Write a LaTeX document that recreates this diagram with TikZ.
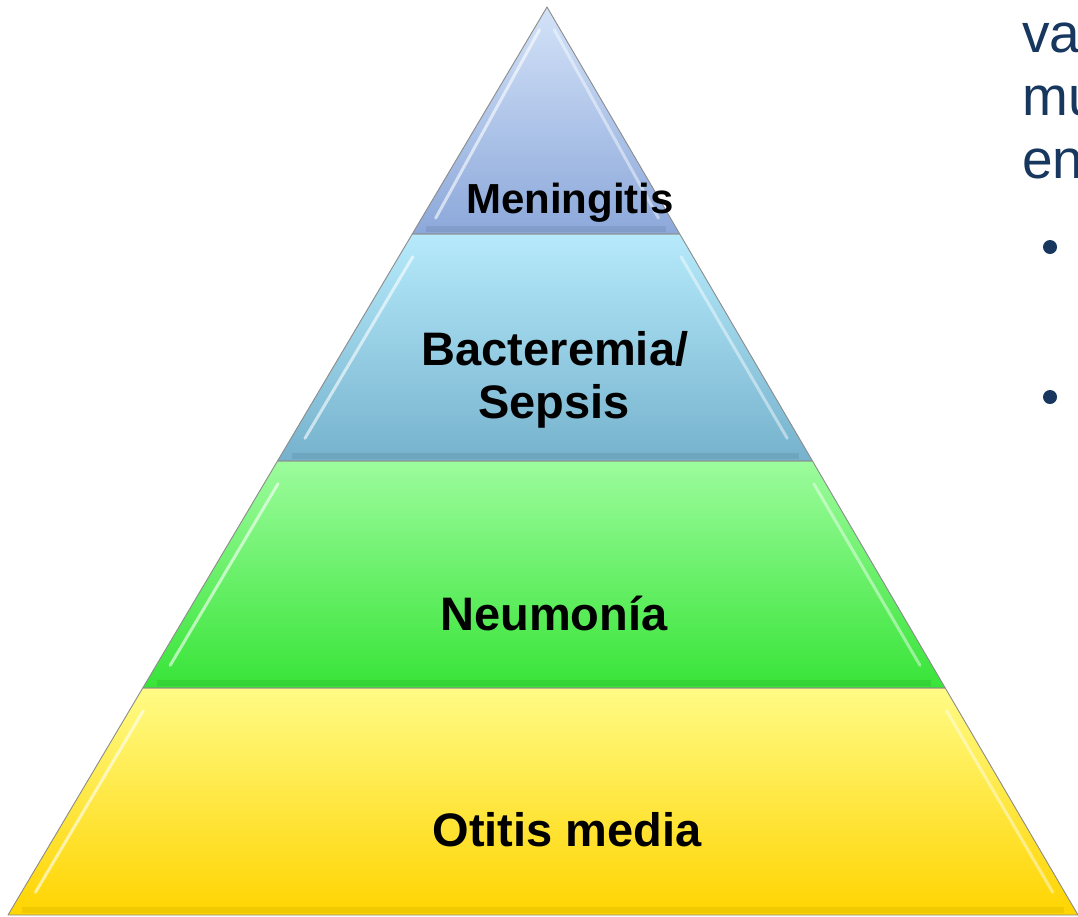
\documentclass[tikz,border=0pt]{standalone}
\usepackage{fontspec}
\setmainfont{Liberation Sans}
\usetikzlibrary{calc}
\definecolor{navy}{HTML}{17375E}
\definecolor{menTop}{HTML}{D3E2F8}
\definecolor{menBot}{HTML}{8CA8DA}
\definecolor{bacTop}{HTML}{B6EAFB}
\definecolor{bacBot}{HTML}{76B2CD}
\definecolor{neuTop}{HTML}{9CFC9C}
\definecolor{neuBot}{HTML}{38E438}
\definecolor{otiTop}{HTML}{FFFB85}
\definecolor{otiBot}{HTML}{FFD400}
\begin{document}
\begin{tikzpicture}[x=1pt,y=-1pt,
  outline/.style={draw=black!45,line width=0.9pt,line join=round},
  hlleft/.style={white,opacity=0.6,line width=3pt,line cap=round},
  hlright/.style={white,opacity=0.45,line width=3pt,line cap=round},
  bandlabel/.style={font=\fontsize{47}{53}\selectfont\bfseries,anchor=base,inner sep=0pt,text=black},
  sidetext/.style={font=\fontsize{55}{62}\selectfont,anchor=base west,inner sep=0pt,text=navy},
  bulletdot/.style={circle,fill=navy,inner sep=0pt,minimum size=14pt}]
\clip (0,0) rectangle (1078,916);
\fill[white] (0,0) rectangle (1078,916);
\coordinate (A) at (547,7);
\coordinate (L) at (8,915);
\coordinate (R) at (1078,915);
\coordinate (L1) at ($(A)!0.25!(L)$);
\coordinate (R1) at ($(A)!0.25!(R)$);
\coordinate (L2) at ($(A)!0.5!(L)$);
\coordinate (R2) at ($(A)!0.5!(R)$);
\coordinate (L3) at ($(A)!0.75!(L)$);
\coordinate (R3) at ($(A)!0.75!(R)$);
% bands
\shade[top color=menTop,bottom color=menBot] (A) -- (R1) -- (L1) -- cycle;
\shade[top color=bacTop,bottom color=bacBot] (L1) -- (R1) -- (R2) -- (L2) -- cycle;
\shade[top color=neuTop,bottom color=neuBot] (L2) -- (R2) -- (R3) -- (L3) -- cycle;
\shade[top color=otiTop,bottom color=otiBot] (L3) -- (R3) -- (R) -- (L) -- cycle;
% bottom darker strips
\draw[menBot!80!black,opacity=0.35,line width=6pt] ($(L1)+(14,-5)$) -- ($(R1)+(-14,-5)$);
\draw[bacBot!80!black,opacity=0.35,line width=6pt] ($(L2)+(14,-5)$) -- ($(R2)+(-14,-5)$);
\draw[neuBot!80!black,opacity=0.35,line width=6pt] ($(L3)+(14,-5)$) -- ($(R3)+(-14,-5)$);
\draw[otiBot!85!black,opacity=0.35,line width=6pt] ($(L)+(14,-5)$) -- ($(R)+(-14,-5)$);
% highlights
\draw[hlleft] ($(A)!0.1!(L1)+(6,0)$) -- ($(A)!0.93!(L1)+(14,0)$);
\draw[hlright] ($(A)!0.1!(R1)+(-6,0)$) -- ($(A)!0.93!(R1)+(-12,0)$);
\draw[hlleft] ($(L1)!0.1!(L2)+(14,0)$) -- ($(L1)!0.9!(L2)+(14,0)$);
\draw[hlright] ($(R1)!0.1!(R2)+(-12,0)$) -- ($(R1)!0.9!(R2)+(-12,0)$);
\draw[hlleft] ($(L2)!0.1!(L3)+(14,0)$) -- ($(L2)!0.9!(L3)+(14,0)$);
\draw[hlright] ($(R2)!0.1!(R3)+(-12,0)$) -- ($(R2)!0.9!(R3)+(-12,0)$);
\draw[hlleft] ($(L3)!0.1!(L)+(14,0)$) -- ($(L3)!0.9!(L)+(14,0)$);
\draw[hlright] ($(R3)!0.1!(R)+(-12,0)$) -- ($(R3)!0.9!(R)+(-12,0)$);
% outlines
\draw[outline] (A) -- (R1) -- (L1) -- cycle;
\draw[outline] (L1) -- (R1) -- (R2) -- (L2) -- cycle;
\draw[outline] (L2) -- (R2) -- (R3) -- (L3) -- cycle;
\draw[outline] (L3) -- (R3) -- (R) -- (L) -- cycle;
% labels
\node[bandlabel,font=\fontsize{42}{48}\selectfont\bfseries] (men) at (570,213) {Meningitis};
\node[bandlabel] (bac) at (555,365) {Bacteremia/};
\node[bandlabel] (sep) at (554,418) {Sepsis};
\node[bandlabel] (neu) at (554,630) {Neumonía};
\node[bandlabel] (oti) at (567,846) {Otitis media};
% side text
\node[sidetext] (t1) at (1022,52) {va};
\node[sidetext] (t2) at (1022,115) {mu};
\node[sidetext] (t3) at (1022,178) {en};
\node[bulletdot] (b1) at (1050,247) {};
\node[bulletdot] (b2) at (1050,397) {};
\end{tikzpicture}
\end{document}
